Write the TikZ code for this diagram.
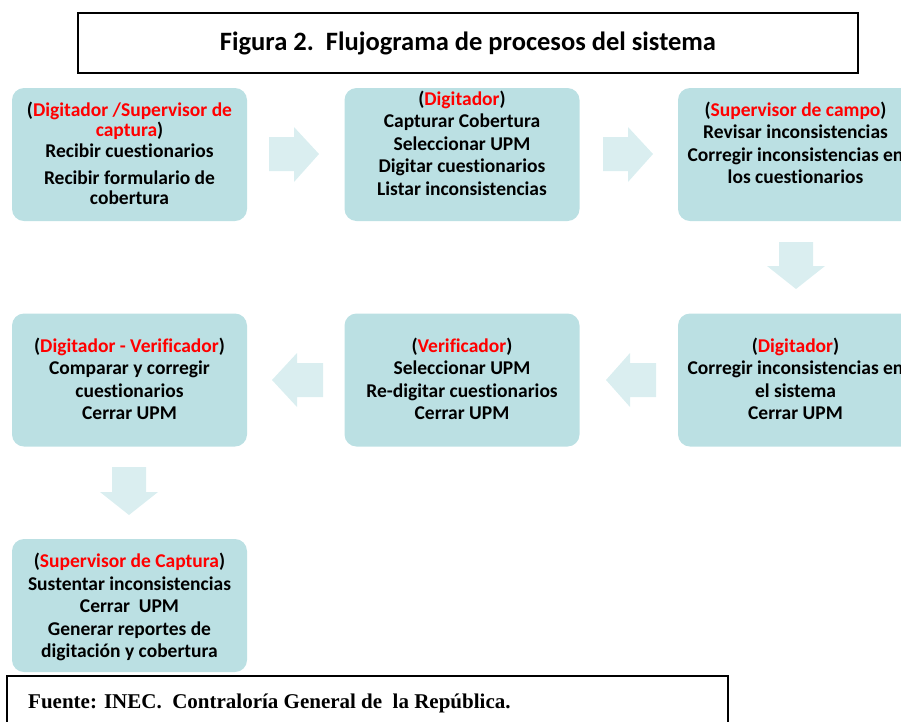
\documentclass[tikz,border=0pt]{standalone}
\usepackage{fontspec}
\setmainfont{Carlito}[Ligatures=NoCommon]
\newfontfamily\footfont{Liberation Serif}
\definecolor{boxfill}{HTML}{BBE0E3}
\definecolor{arrowfill}{HTML}{DAEEF0}
\definecolor{rolered}{HTML}{FF0000}
\newcommand{\role}[1]{\textcolor{rolered}{#1}}
\begin{document}
\begin{tikzpicture}[x=1pt,y=-1pt,
  procbox/.style={fill=boxfill, draw=none, rounded corners=12pt,
    minimum width=235pt, minimum height=133pt, inner sep=0pt},
  boxtext/.style={font=\bfseries\fontsize{19.5}{22.5}\selectfont, align=center,
    inner sep=0pt, anchor=north},
  blockarrow/.style={fill=arrowfill, draw=none},
  framebox/.style={draw=black, line width=1.6pt, fill=white, inner sep=0pt}]
\useasboundingbox (0,0) rectangle (901,721);
\clip (0,0) rectangle (901,721);

% title
\node[framebox, minimum width=780pt, minimum height=60pt,
  font=\bfseries\fontsize{26.5}{30}\selectfont] (title) at (468,43)
  {Figura 2.\ \ Flujograma de procesos del sistema};

% boxes
\node[procbox] (b1) at (129.5,154.5) {};
\node[procbox] (b2) at (462,154.5) {};
\node[procbox] (b3) at (795.5,154.5) {};
\node[procbox] (b4) at (129.5,380) {};
\node[procbox] (b5) at (462,380) {};
\node[procbox] (b6) at (795.5,380) {};
\node[procbox] (b7) at (129.5,605.5) {};

% texts
\node[boxtext, font=\bfseries\fontsize{19.5}{20.5}\selectfont] (t1) at (129.5,101.5)
  {(\role{Digitador /Supervisor de}\\\role{captura})\\Recibir cuestionarios\\[6.5pt]Recibir formulario de\\cobertura};
\node[boxtext] (t2) at (462,90.5)
  {(\role{Digitador})\\Capturar Cobertura\\Seleccionar UPM\\Digitar cuestionarios\\Listar inconsistencias};
\node[boxtext] (t3) at (795.5,101.5)
  {(\role{Supervisor de campo})\\Revisar inconsistencias\\Corregir inconsistencias en\\los cuestionarios};
\node[boxtext] (t4) at (129.5,337.5)
  {(\role{Digitador - Verificador})\\Comparar y corregir\\cuestionarios\\Cerrar UPM};
\node[boxtext] (t5) at (462,337.5)
  {(\role{Verificador})\\Seleccionar UPM\\Re-digitar cuestionarios\\Cerrar UPM};
\node[boxtext] (t6) at (795.5,337.5)
  {(\role{Digitador})\\Corregir inconsistencias en\\el sistema\\Cerrar UPM};
\node[boxtext] (t7) at (129.5,553)
  {(\role{Supervisor de Captura})\\Sustentar inconsistencias\\Cerrar\ \ UPM\\Generar reportes de\\digitación y cobertura};

% block arrows
\fill[blockarrow] (269,137) -- (294,137) -- (294,127) -- (319,154) -- (294,182) -- (294,171) -- (269,171) -- cycle;
\fill[blockarrow] (603,137) -- (628,137) -- (628,127) -- (653,154) -- (628,182) -- (628,171) -- (603,171) -- cycle;
\fill[blockarrow] (779,242) -- (813,242) -- (813,266) -- (825,266) -- (796,289) -- (767,266) -- (779,266) -- cycle;
\fill[blockarrow] (656,363) -- (630,363) -- (630,353) -- (606,380) -- (630,407) -- (630,397) -- (656,397) -- cycle;
\fill[blockarrow] (323,363) -- (297,363) -- (297,353) -- (272,380) -- (297,407) -- (297,397) -- (323,397) -- cycle;
\fill[blockarrow] (112,467) -- (146,467) -- (146,492) -- (158,492) -- (129,515) -- (100,492) -- (112,492) -- cycle;

% footer
\draw[line width=1.6pt, fill=white] (7,676) -- (728,676) -- (728,730) -- (7,730) -- cycle;
\node[anchor=base west, inner sep=0pt, font=\footfont\bfseries\fontsize{21}{24}\selectfont] (foot) at (28,708)
  {Fuente: INEC.\ \ Contraloría General de\ \ la República.};
\end{tikzpicture}
\end{document}
